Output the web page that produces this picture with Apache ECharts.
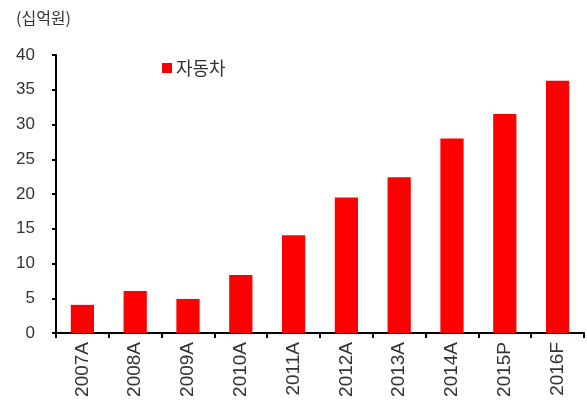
<!DOCTYPE html>
<html><head><meta charset="utf-8">
<script src="https://cdn.jsdelivr.net/npm/echarts@6/dist/echarts.min.js"></script>
<style>html,body{margin:0;padding:0;background:#fff}#c{width:587px;height:400px}</style>
</head><body><div id="c"></div>
<script>
const categories = ['2007A','2008A','2009A','2010A','2011A','2012A','2013A','2014A','2015P','2016F'];
const autoValues = [4.05, 6.05, 4.9, 8.35, 14.05, 19.5, 22.4, 28.0, 31.5, 36.3];
const yTicks = {min: 0, max: 40, interval: 5};
const seriesName = '자동차';
const unitLabel = '(십억원)';

const font = "'Liberation Sans', 'Noto Sans CJK KR', sans-serif";
const chart = echarts.init(document.getElementById('c'));
chart.setOption({
  animation: false,
  textStyle: {fontFamily: font},
  title: {text: unitLabel, left: 11, top: 5, textStyle: {fontSize: 16, fontWeight: 'normal', color: '#333', fontFamily: "'Noto Sans CJK KR', sans-serif"}},
  legend: {data: [seriesName], left: 157, top: 54, itemWidth: 10, itemHeight: 10, itemGap: 4,
    icon: 'rect', textStyle: {fontSize: 18, color: '#333', fontFamily: "'Noto Sans CJK KR', sans-serif", padding: [0,0,0,-1]}},
  grid: {left: 56, right: 3, top: 55, bottom: 67, containLabel: false},
  xAxis: {type: 'category', data: categories,
    axisLine: {lineStyle: {color: '#000', width: 2}},
    axisTick: {show: true, length: 5, lineStyle: {color: '#000', width: 2}, alignWithLabel: false},
    axisLabel: {rotate: 90, fontSize: 19, color: '#333', margin: 9, interval: 0}},
  yAxis: {type: 'value', min: yTicks.min, max: yTicks.max, interval: yTicks.interval,
    splitLine: {show: false},
    axisLine: {show: true, lineStyle: {color: '#000', width: 2}},
    axisTick: {show: true, length: 4, lineStyle: {color: '#000', width: 2}},
    axisLabel: {fontSize: 17, color: '#333', margin: 21}},
  series: [{name: seriesName, type: 'bar', data: autoValues, barWidth: '44%',
    itemStyle: {color: '#ff0000'}}]
});
</script></body></html>
